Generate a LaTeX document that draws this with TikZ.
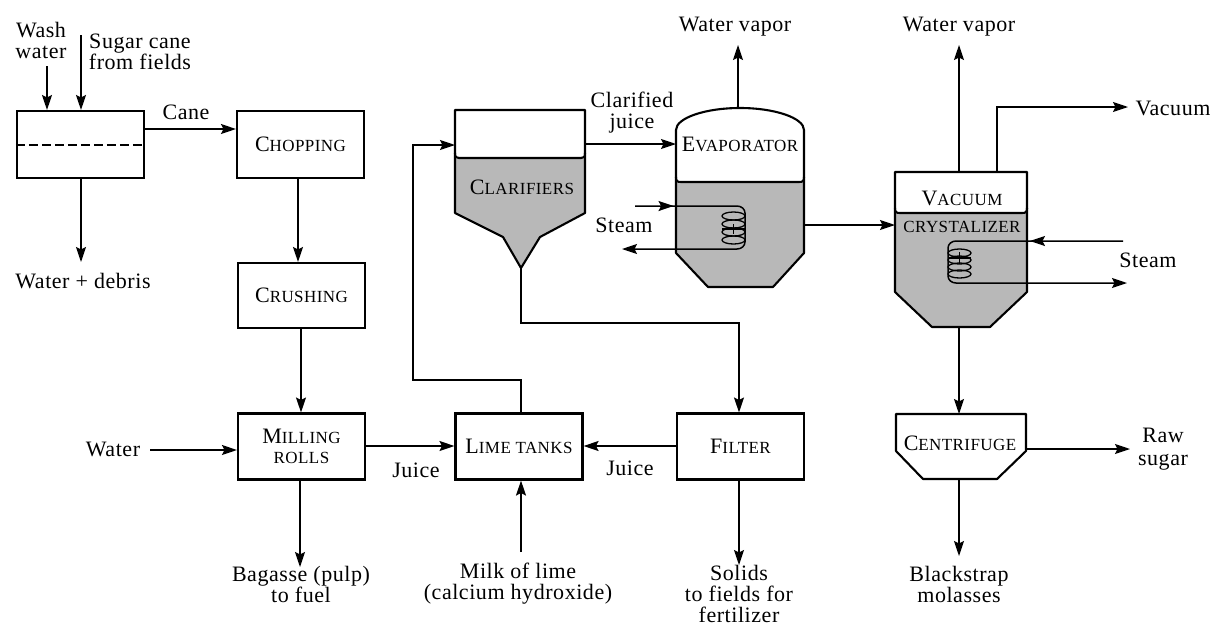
\documentclass[tikz,border=0pt]{standalone}
\usepackage{fontspec}
\setmainfont{Liberation Serif}[LetterSpace=2.5]
\usetikzlibrary{arrows.meta,decorations.markings}
\definecolor{liquid}{gray}{0.72}
\newcommand{\capsA}[2]{{\fontsize{22}{22}\selectfont #1}{\fontsize{17}{22}\selectfont #2}}
\newcommand{\capsB}[1]{{\fontsize{17}{22}\selectfont #1}}
\tikzset{
  txt/.style={inner sep=0pt,align=center,font=\fontsize{22}{21}\selectfont},
  boxn/.style={draw,line width=2.1pt,inner sep=0pt,minimum width=127pt,minimum height=66pt,align=center,font=\fontsize{22}{21}\selectfont},
  ghost/.style={inner sep=0pt,outer sep=0pt},
  vessel/.style={line width=2.1pt,line join=round},
  flow/.style={line width=1.5pt,-{Stealth[length=15pt,width=10pt,inset=2.5pt]}},
  midflow/.style={line width=1.5pt,postaction={decorate},decoration={markings,mark=at position #1 with {\arrow{Stealth[length=15pt,width=10pt,inset=2.5pt]}}}},
  coil/.style={line width=1.3pt}
}
\begin{document}
\begin{tikzpicture}[x=1pt,y=-1pt]
\useasboundingbox (0,0) rectangle (1218,630);
% plain boxes
\node[boxn,minimum height=67pt] (wash) at (80.5,144.5) {};
\node[boxn,minimum height=67pt] (chop) at (300.5,144.5) {\capsA{C}{HOPPING}};
\node[boxn,minimum height=65pt] (crush) at (301.5,295.5) {\capsA{C}{RUSHING}};
\node[boxn] (mill) at (301.5,446.5) {\capsA{M}{ILLING}\\[-1pt]\capsB{ROLLS}};
\node[boxn] (lime) at (519,446.5) {\capsA{L}{IME TANKS}};
\node[boxn] (filter) at (740.5,446.5) {\capsA{F}{ILTER}};
\draw[line width=1.4pt,dash pattern=on 9pt off 4pt] (wash.west |- 0,145) -- (wash.east |- 0,145);
% clarifier
\fill[liquid] (455,158) -- (585,158) -- (585,213) -- (540,237) -- (521,268) -- (503,237) -- (455,213) -- cycle;
\draw[vessel] (455,110) -- (585,110) -- (585,213) -- (540,237) -- (521,268) -- (503,237) -- (455,213) -- cycle;
\draw[vessel] (455,153) .. controls (455,157) and (456,158) .. (459,158) -- (581,158) .. controls (584,158) and (585,157) .. (585,153);
\node[ghost,minimum width=130pt,minimum height=158pt] (clar) at (520,189) {};
\node[txt] (clarlab) at (522,187) {\capsA{C}{LARIFIERS}};
% evaporator
\fill[liquid] (676,182) -- (804,182) -- (804,253) -- (773,287) -- (708,287) -- (676,253) -- cycle;
\draw[vessel] (676,130) .. controls (676,118) and (705,108) .. (740,108) .. controls (775,108) and (804,118) .. (804,130) -- (804,253) -- (773,287) -- (708,287) -- (676,253) -- cycle;
\draw[vessel] (676,177) .. controls (676,181) and (677,182) .. (681,182) -- (799,182) .. controls (803,182) and (804,181) .. (804,177);
\node[ghost,minimum width=128pt,minimum height=179pt] (evap) at (740,197.5) {};
\node[txt] (evaplab) at (740,144) {\capsA{E}{VAPORATOR}};
% crystallizer
\fill[liquid] (895,213) -- (1027,213) -- (1027,292) -- (990,327) -- (932,327) -- (895,292) -- cycle;
\draw[vessel] (895,172) -- (1027,172) -- (1027,292) -- (990,327) -- (932,327) -- (895,292) -- cycle;
\draw[vessel] (895,208) .. controls (895,212) and (896,213) .. (900,213) -- (1022,213) .. controls (1026,213) and (1027,212) .. (1027,208);
\node[ghost,minimum width=132pt,minimum height=155pt] (crys) at (961,249.5) {};
\node[txt] (vaclab) at (962,198) {\capsA{V}{ACUUM}};
\node[txt] (crylab) at (962,227) {\capsB{CRYSTALIZER}};
% centrifuge
\draw[vessel] (896,414) -- (1026,414) -- (1026,451) -- (997,479) -- (923,479) -- (896,451) -- cycle;
\node[ghost,minimum width=130pt,minimum height=65pt] (cent) at (961,446.5) {};
\node[txt] (centlab) at (960,443) {\capsA{C}{ENTRIFUGE}};
% text
\node[txt] (washwater) at (41,40) {Wash\\water};
\node[txt] (cane) at (140,52) {Sugar cane\\from fields};
\node[txt] (canelab) at (186,112) {Cane};
\node[txt] (debris) at (83,281) {Water + debris};
\node[txt] (water) at (113,449) {Water};
\node[txt] (juice1) at (416,470) {Juice};
\node[txt] (juice2) at (630,468) {Juice};
\node[txt] (bagasse) at (301,584) {Bagasse (pulp)\\to fuel};
\node[txt] (milk) at (518,584) {Milk of lime\\(calcium hydroxide)};
\node[txt] (solids) at (739,594) {Solids\\to fields for\\fertilizer};
\node[txt] (molasses) at (959,584) {Blackstrap\\molasses};
\node[txt] (clarj) at (632,113) {Clarified\\juice};
\node[txt] (vap1) at (735,27) {Water vapor};
\node[txt] (vap2) at (959,27) {Water vapor};
\node[txt] (vaclabel) at (1173,108) {Vacuum};
\node[txt] (steam1) at (624,225) {Steam};
\node[txt] (steam2) at (1148,260) {Steam};
\node[txt] (raw) at (1163,449) {Raw\\[2pt]sugar};
% free ends
\coordinate (washin) at (47,66);
\coordinate (canein) at (81,35);
\coordinate (debrisend) at (81,262);
\coordinate (vacturn) at (997,107);
\coordinate (vacend) at (1128,107);
\coordinate (waterstart) at (150,450);
\coordinate (loopA) at (413,380);
\coordinate (loopB) at (413,145);
\coordinate (sludge) at (521,323);
\coordinate (sludgeB) at (739,323);
% connectors
\draw[flow] (washin) -- (wash.north -| washin);
\draw[flow] (canein) -- (wash.north -| canein);
\draw[flow] (wash.south -| canein) -- (debrisend);
\draw[flow] (wash.east |- 0,129) -- (chop.west |- 0,129);
\draw[flow] (chop.south -| 298,0) -- (crush.north -| 298,0);
\draw[flow] (crush.south -| 301,0) -- (mill.north -| 301,0);
\draw[flow] (waterstart) -- (mill.west |- waterstart);
\draw[flow] (mill.east |- 0,446) -- (lime.west |- 0,446);
\draw[flow] (mill.south -| 300,0) -- (300,567);
\draw[flow] (lime.north -| 521,0) |- (loopA) -- (loopB) -- (clar.west |- loopB);
\draw[flow] (521,552) -- (lime.south -| 521,0);
\draw[flow] (filter.west |- 0,446) -- (lime.east |- 0,446);
\draw[flow] (filter.south -| 739,0) -- (739,565);
\draw[flow] (521,268) -- (sludge) -- (sludgeB) -- (filter.north -| sludgeB);
\draw[flow] (clar.east |- 0,144) -- (evap.west |- 0,144);
\draw[flow] (738,108) -- (738,45);
\draw[flow] (evap.east |- 0,225) -- (crys.west |- 0,225);
\draw[flow] (959,172) -- (959,45);
\draw[flow] (997,172) -- (vacturn) -- (vacend);
\draw[flow] (959,327) -- (cent.north -| 959,0);
\draw[flow] (cent.east |- 0,449) -- (1130,449);
\draw[flow] (959,479) -- (959,556);
% evaporator coil
\draw[midflow=0.27] (635,206) -- (737,206) arc[start angle=-90,end angle=0,x radius=8,y radius=7] -- (745,242);
\foreach \yy in {216,224,232,240} {
  \draw[coil] (733.5,\yy) ellipse[x radius=11.5,y radius=4];
}
\draw[coil] (733.5,224) -- (733.5,234);
\draw[coil] (722,229) -- (745,229);
\draw[flow] (745,242) arc[start angle=0,end angle=90,x radius=8,y radius=7] -- (622,249);
% crystallizer coil
\draw[midflow=0.45] (1123,241) -- (956,241) arc[start angle=270,end angle=180,x radius=8,y radius=7] -- (948,276);
\foreach \yy in {253,260,267,274} {
  \draw[coil] (959.5,\yy) ellipse[x radius=11.5,y radius=4];
}
\draw[coil] (959.5,252) -- (959.5,264);
\draw[coil] (948,258) -- (971,258);
\draw[flow] (948,276) arc[start angle=180,end angle=90,x radius=8,y radius=7] -- (1127,283);
\end{tikzpicture}
\end{document}
